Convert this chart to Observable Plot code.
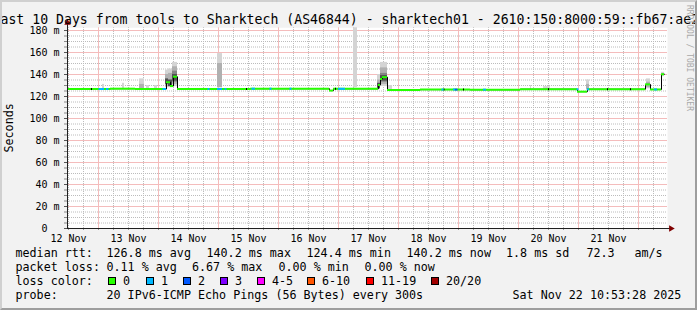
<!DOCTYPE html>
<html><head><meta charset="utf-8">
<script src="https://cdn.jsdelivr.net/npm/d3@7"></script>
<script src="https://cdn.jsdelivr.net/npm/@observablehq/plot@0.6"></script>
<style>
html,body{margin:0;padding:0;background:#f2f2f2;}
#wrap{position:relative;width:697px;height:310px;overflow:hidden;background:#f2f2f2;}
#frame{position:absolute;left:0;top:0;width:697px;height:310px;box-sizing:border-box;border-style:solid;border-width:2px;border-color:#d0d0d0 #9e9e9e #9e9e9e #d0d0d0;pointer-events:none}
#chart{position:absolute;left:0;top:0;width:697px;height:310px;}
#chart svg{max-width:none;display:block;}
.t{position:absolute;white-space:pre;font-family:'DejaVu Sans Mono',monospace;line-height:1;color:#000}
.box{position:absolute;width:6px;height:6px;border:1px solid #000}
</style></head><body><div id="wrap"><div id="chart"></div></div>
<script>
// ---------- data ----------
const titleText = "Last 10 Days from tools to Sharktech (AS46844) - sharktech01 - 2610:150:8000:59::fb67:ae2";
const dayLabels = ["12 Nov","13 Nov","14 Nov","15 Nov","16 Nov","17 Nov","18 Nov","19 Nov","20 Nov","21 Nov"];
const yTickValues = [0,20,40,60,80,100,120,140,160,180];

// median rtt (ms), step series: value holds from medianHours[i] to medianHours[i+1] (hours after graph start)
const medianHours = [0, 17.2, 27.2, 39.6, 41.2, 42.4, 44, 73.2, 104.8, 106.4, 124.4, 125.2, 126, 128, 141.2, 161.2, 181.2, 204, 208, 231.2, 233.2, 237.6, 238.8];
const medianMs    = [126.8, 127.1, 126.8, 133.0, 129.5, 138.0, 126.8, 127.1, 125.4, 127.0, 130.5, 136.0, 137.6, 126.0, 126.3, 126.2, 126.6, 124.4, 126.6, 131.0, 126.4, 140.2, 140.2];

// packet loss episodes (pings lost out of 20)
const lossStart = [12.6, 15.6, 38.2, 56.2, 60, 63.0, 73.8, 81.0, 89.0, 108.4, 149.8, 154.4, 155.2, 166.4, 203.8, 208, 234.8];
const lossEnd   = [14.8, 16.6, 39.6, 57.0, 62, 63.8, 75.2, 81.8, 89.8, 111.2, 150.6, 155.2, 156.2, 167.6, 204.6, 208.8, 236];
const lossCount = [1, 1, 1, 1, 1, 1, 1, 1, 1, 1, 1, 1, 2, 1, 1, 1, 1];

// bins where the median is drawn without loss colour
const uncoloredHours = [9.6, 71.6, 107.2, 150.6, 158.4, 192.4, 216, 225.2];

// smoke (ping spread) bands: layer 1 = outermost, 4 = innermost
const smokeStart = [14, 22, 28.8, 28.8, 31.6, 34.8, 39.2, 39.2, 39.2, 40.4, 40.4, 40.4, 42, 42, 42, 42, 60, 60, 114.4, 124, 124, 124, 125.2, 125.2, 125.2, 125.2, 128, 162.4, 185.2, 190.4, 207.6, 207.6, 231.6, 231.6, 237.6];
const smokeEnd   = [14.8, 22.8, 30.8, 30.8, 32.8, 36, 40.4, 40.4, 40.4, 42, 42, 42, 44, 44, 44, 44, 62, 62, 116, 125.2, 125.2, 125.2, 128, 128, 128, 128, 130, 162.8, 185.6, 193.2, 208.8, 208.8, 233.2, 233.2, 238.8];
const smokeLow   = [127, 127, 127, 127, 127, 127, 128, 129, 131, 128, 129, 129, 129, 131, 133, 134, 128, 128, 128, 127, 127, 127, 129, 131, 133, 134, 126, 126, 126, 126, 126, 126, 127, 128, 138];
const smokeHigh  = [131, 132, 136, 131, 130, 130, 144, 140, 136, 145, 141, 135, 151, 147, 143, 140, 159, 150, 182.5, 140, 135, 132, 151, 146, 141, 139, 130, 129, 130, 129, 135, 131, 136, 133, 142];
const smokeLayer = [1, 1, 1, 2, 1, 1, 1, 2, 4, 1, 2, 4, 1, 2, 3, 4, 1, 2, 1, 1, 2, 4, 1, 2, 3, 4, 1, 1, 1, 1, 1, 2, 1, 2, 1];

const medianStats = ["126.8 ms avg", "140.2 ms max", "124.4 ms min", "140.2 ms now", "1.8 ms sd", "72.3", "am/s"];
const lossStats = ["0.11 % avg", "6.67 % max", "0.00 % min", "0.00 % now"];
const lossLegendLabels = ["0", "1", "2", "3", "4-5", "6-10", "11-19", "20/20"];
const lossLegendColors = ["#26ff00", "#00b8ff", "#0059ff", "#7e00ff", "#ff00ff", "#ff5500", "#ff0000", "#a10000"];
const probeText = "20 IPv6-ICMP Echo Pings (56 Bytes) every 300s";
const dateText = "Sat Nov 22 10:53:28 2025";

// ---------- build ----------
const startUTC = Date.UTC(2025, 10, 12, 11, 36);
const at = h => new Date(startUTC + h * 3600e3);
const t0 = at(0), t1 = at(240);

const sixHours = d3.utcHour.every(6).range(t0, t1);
const midnights = sixHours.filter(d => d.getUTCHours() === 0);
const quarterDays = sixHours.filter(d => d.getUTCHours() !== 0);
const noons = sixHours.filter(d => d.getUTCHours() === 12);
const labelByTime = new Map(noons.map((d, i) => [+d, dayLabels[i]]));

const yMinor = d3.range(5, 181, 5).filter(v => v % 20 !== 0);
const yMajor = yTickValues.filter(v => v > 0);

const medPts = medianHours.map((h, i) => ({x: at(h), y: medianMs[i]}));
const segs = medianHours.slice(0, -1).map((h, i) => ({x1: at(h), x2: at(medianHours[i + 1]), y: medianMs[i]}));
const medAt = h => medianMs[Math.max(0, Math.min(medianMs.length - 1, d3.bisectRight(medianHours, h) - 1))];
const lossColorOf = n => n >= 20 ? lossLegendColors[7] : n >= 11 ? lossLegendColors[6] : n >= 6 ? lossLegendColors[5] : n >= 4 ? lossLegendColors[4] : lossLegendColors[n];
const lossSegs = lossStart.map((h, i) => ({x1: at(h), x2: at(lossEnd[i]), y: medAt(h + 0.01), c: lossColorOf(lossCount[i])}));
const darkSegs = uncoloredHours.map(h => ({x1: at(h), x2: at(h + 0.4), y: medAt(h + 0.01)}));
const layerFill = {1: "#d4d4d4", 2: "#b0b0b0", 3: "#858585", 4: "#505050"};
const smoke = smokeStart.map((h, i) => ({x1: at(h), x2: at(smokeEnd[i]), lo: smokeLow[i], hi: smokeHigh[i], layer: smokeLayer[i]}))
  .sort((a, b) => a.layer - b.layer);

// grid line endpoints (full frame)
const yTop = 182.5;
const hGrid = (vals, color, dash) => Plot.ruleY(vals, {x1: () => t0, x2: () => t1, stroke: color, strokeWidth: 1, strokeDasharray: dash});
const vGrid = (vals, color, dash) => Plot.ruleX(vals, {y1: () => 0, y2: () => yTop, stroke: color, strokeWidth: 1, strokeDasharray: dash});

const FONT = "'DejaVu Sans Mono', monospace";
const chart = Plot.plot({
  width: 697, height: 310,
  marginLeft: 67, marginRight: 30, marginTop: 27.25, marginBottom: 82,
  x: {type: "utc", domain: [t0, t1]},
  y: {domain: [0, yTop]},
  color: {type: "identity"},
  style: {background: "transparent", fontFamily: FONT, fontSize: "10px", color: "#000", overflow: "visible"},
  marks: [
    Plot.frame({fill: "#ffffff", stroke: null}),
    hGrid(yMinor, "#bcbcbc", "1 1"),
    vGrid(quarterDays, "#bcbcbc", "1 1"),
    hGrid(yMajor, "#f4bcbc", null),
    vGrid(midnights, "#f4bcbc", null),
    Plot.rect(smoke, {x1: "x1", x2: "x2", y1: "lo", y2: "hi", fill: d => layerFill[d.layer]}),
    Plot.line(medPts, {x: "x", y: "y", curve: "step-after", stroke: "#000", strokeWidth: 1}),
    Plot.ruleY(segs, {x1: "x1", x2: "x2", y: "y", stroke: "#26ff00", strokeWidth: 2}),
    Plot.ruleY(darkSegs, {x1: "x1", x2: "x2", y: "y", stroke: "#000", strokeWidth: 2}),
    Plot.ruleY(lossSegs, {x1: "x1", x2: "x2", y: "y", stroke: d => d.c, strokeWidth: 2}),
    Plot.axisY({ticks: yMinor, tickFormat: () => "", tickSize: 3, stroke: "#888", label: null}),
    Plot.axisY({ticks: yTickValues, tickFormat: d => d === 0 ? "0\u00a0\u00a0" : d + "\u00a0m", tickSize: 3, tickPadding: 5, stroke: "#555", label: null, fontSize: 10}),
    Plot.axisX({ticks: sixHours, tickFormat: () => "", tickSize: 2, stroke: "#999", label: null}),
    Plot.axisX({ticks: noons, tickFormat: d => labelByTime.get(+d), tickSize: 0, tickPadding: 6.5, label: null, fontSize: 10}),
    Plot.ruleY([0], {x1: () => t0, x2: () => at(241.2), stroke: "#202020"}),
    Plot.ruleX([0], {x: () => t0, y1: () => 0, y2: () => 186, stroke: "#202020"}),
    Plot.dot([0], {x: () => at(241.4), y: () => 0, symbol: "triangle", rotate: 90, r: 2.4, fill: "#800000", stroke: null}),
    Plot.dot([0], {x: () => t0, y: () => 187, symbol: "triangle", r: 2.4, fill: "#800000", stroke: null})
  ]
});
document.getElementById("chart").appendChild(chart);

// ---------- texts ----------
const wrap = document.getElementById("wrap");
function addText(str, left, baseline, size, color) {
  const d = document.createElement("div");
  d.className = "t";
  d.textContent = str;
  d.style.left = left + "px";
  d.style.top = (baseline - 0.846 * size) + "px";
  d.style.fontSize = size + "px";
  if (color) d.style.color = color;
  wrap.appendChild(d);
  return d;
}
addText(titleText, -7.5, 24.5, 13.2);

const FS = 11.7;
const rows = [257.7, 271.9, 286, 300.1];
addText("median rtt:", 15.5, rows[0], FS);
[106.5, 206.5, 306.5, 406.5, 506, 586.5, 634.5].forEach((x, i) => addText(medianStats[i], x, rows[0], FS));
addText("packet loss:", 15.5, rows[1], FS);
[106.5, 192, 278.5, 364.5].forEach((x, i) => addText(lossStats[i], x, rows[1], FS));
addText("loss color:", 15.5, rows[2], FS);
[108, 146, 183, 220, 257, 307, 366, 431].forEach((x, i) => {
  const b = document.createElement("div");
  b.className = "box";
  b.style.left = x + "px";
  b.style.top = "277px";
  b.style.background = lossLegendColors[i];
  wrap.appendChild(b);
  addText(lossLegendLabels[i], x + 15, rows[2], FS);
});
addText("probe:", 15.5, rows[3], FS);
addText(probeText, 106.5, rows[3], FS);
addText(dateText, 512.5, rows[3], FS);

// y axis title
const yt = document.createElement("div");
yt.className = "t";
yt.textContent = "Seconds";
yt.style.cssText += "width:70px;text-align:center;font-size:11.7px;left:-25px;top:122px;transform:rotate(-90deg);transform-origin:35px 5.85px;";
wrap.appendChild(yt);

// watermark
const wm = document.createElement("div");
wm.className = "t";
wm.textContent = "RRDTOOL / TOBI OETIKER";
wm.style.cssText += "font-size:8px;color:#a8a8a8;left:693px;top:5px;transform:rotate(90deg);transform-origin:0 0;";
wrap.appendChild(wm);

const fr = document.createElement("div");
fr.id = "frame";
wrap.appendChild(fr);
</script></body></html>
